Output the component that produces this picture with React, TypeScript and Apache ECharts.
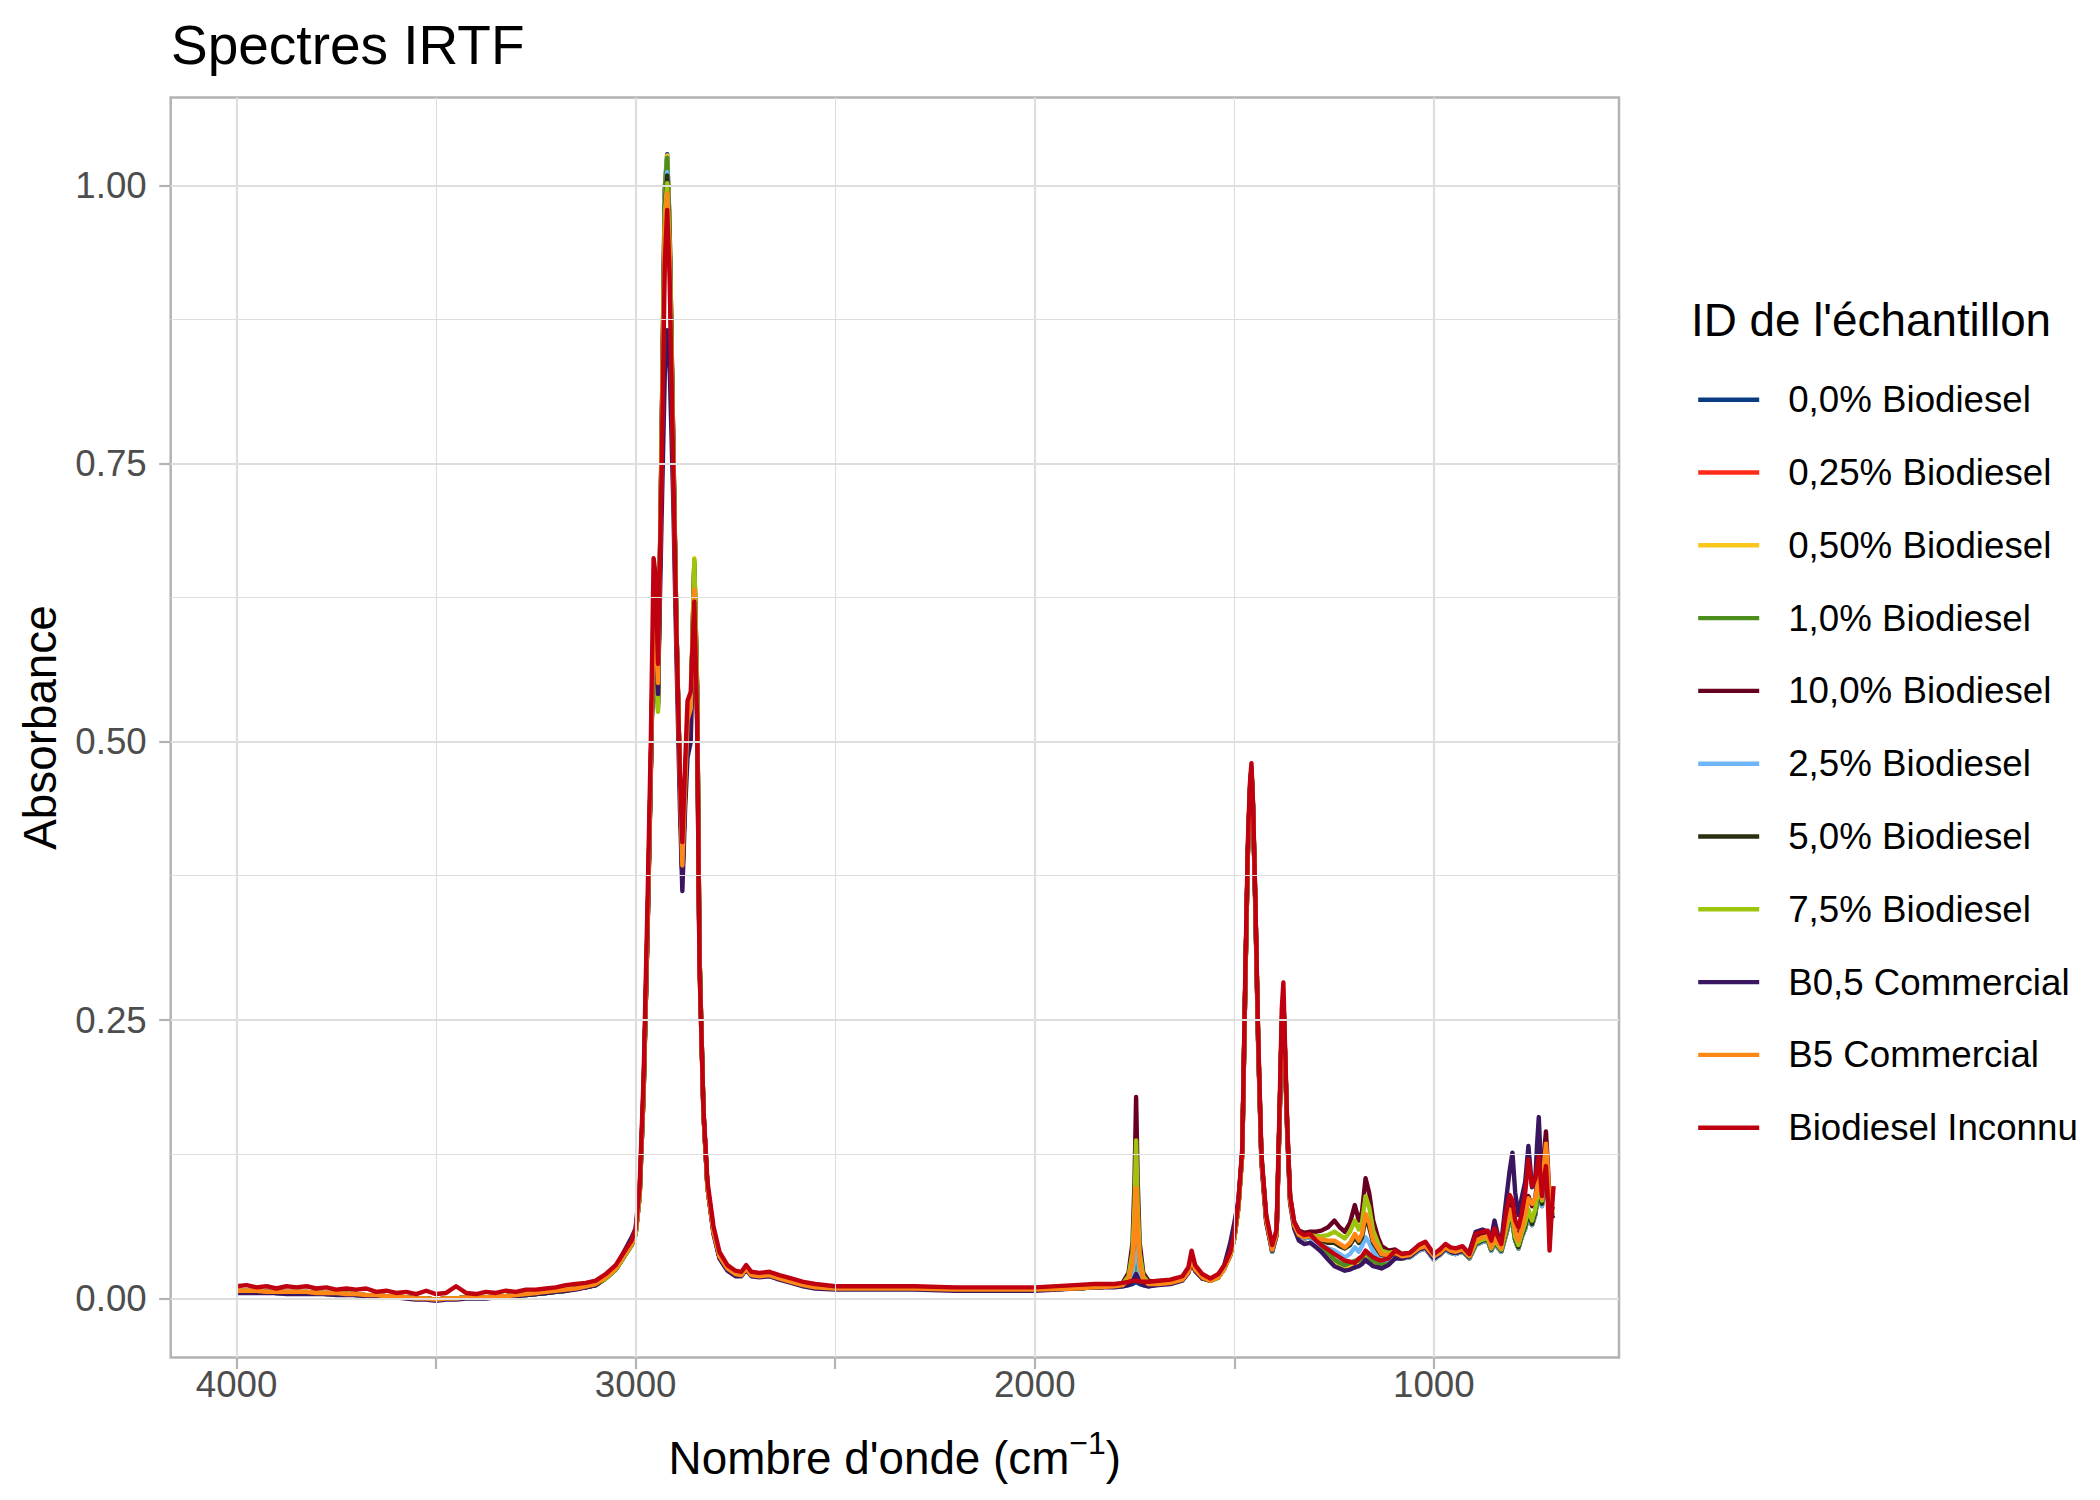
import React, { useEffect, useRef } from "react";
import * as echarts from "echarts";

const FONT = '"Liberation Sans", Arial, Helvetica, sans-serif';

// Wavenumber grid (cm^-1), descending
const wavenumbers = [
  4000, 3975, 3950, 3925, 3900, 3875, 3850, 3825, 3800, 3775, 3750, 3725, 3700, 3675, 3650, 3625, 3600, 3575, 3550, 3525, 3500, 3475, 3450, 3425, 3400, 3375, 3350, 3325, 3300, 3275, 3250, 3225, 3200, 3175, 3150, 3125, 3100,
  3075, 3050, 3025, 3010, 3000, 2990, 2980, 2970, 2962, 2955, 2950, 2944, 2935, 2927, 2921, 2915, 2906, 2898, 2889, 2883, 2876, 2870, 2862, 2853, 2846, 2840, 2830, 2820, 2805, 2790, 2770, 2750, 2735, 2723, 2710, 2690, 2665, 2640, 2610, 2580, 2550,
  2500, 2400, 2300, 2200, 2100, 2000, 1900, 1850, 1800,
  1780, 1765, 1755, 1750, 1746, 1742, 1737, 1728, 1715, 1690, 1660, 1630, 1615, 1607, 1598, 1580, 1560, 1540, 1525, 1510, 1500, 1490, 1480, 1472, 1466, 1461, 1457, 1453, 1447, 1440, 1432, 1420, 1405, 1394, 1386, 1381, 1377, 1373, 1367, 1360, 1350, 1338, 1325, 1310,
  1295, 1282, 1265, 1249, 1236, 1223, 1210, 1198, 1188, 1180, 1171, 1162, 1152, 1140, 1131, 1114, 1097, 1080, 1060, 1038, 1021, 1000, 985, 971, 958, 945, 928, 911, 895, 878, 865, 856, 848, 840, 831, 820, 810, 803, 796, 788, 780, 771, 763, 754, 746, 741, 737, 733, 729, 724, 719, 715, 710, 705, 700,
];

const sampleNames = [
  "0,0% Biodiesel",
  "0,25% Biodiesel",
  "0,50% Biodiesel",
  "1,0% Biodiesel",
  "10,0% Biodiesel",
  "2,5% Biodiesel",
  "5,0% Biodiesel",
  "7,5% Biodiesel",
  "B0,5 Commercial",
  "B5 Commercial",
  "Biodiesel Inconnu",
];

const sampleColors = [
  "#0A3C82",
  "#FF2A18",
  "#F9C61C",
  "#4B8E1E",
  "#680020",
  "#6EB6F7",
  "#283010",
  "#9DC50E",
  "#3A1660",
  "#FF8716",
  "#BE0010",
];

const abs00 = [
  .006, .006, .006, .006, .005, .005, .005, .005, .005, .004, .004, .004, .003, .003, .002, .002, .001, .001, .000, .000, -.001, .000, .000, .001, .001, .001, .001, .002, .003, .003, .004, .005, .006, .007, .009, .010, .012,
  .018, .026, .040, .048, .058, .092, .185, .335, .475, .605, .590, .535, .772, .998, 1.028, .966, .776, .608, .466, .380, .455, .510, .525, .662, .549, .309, .167, .100, .060, .037, .026, .021, .021, .027, .021, .020, .021, .018, .015, .012, .010,
  .009, .009, .009, .008, .008, .008, .009, .010, .011,
  .011, .012, .013, .014, .015, .014, .013, .012, .011, .013, .014, .017, .024, .034, .025, .018, .016, .019, .027, .039, .054, .081, .130, .290, .400, .455, .475, .441, .351, .229, .126, .071, .042, .057, .170, .246, .270, .221, .148, .088, .066, .056, .054, .055,
  .048, .044, .036, .030, .028, .026, .027, .028, .030, .032, .034, .032, .030, .029, .028, .031, .037, .036, .037, .043, .045, .035, .039, .044, .041, .040, .042, .036, .048, .051, .052, .043, .050, .046, .042, .056, .070, .068, .052, .045, .055, .063, .075, .066, .075, .088, .095, .090, .086, .100, .112, .098, .078, .076, .076,
];

const abs025 = [
  .007, .007, .007, .006, .006, .006, .006, .006, .005, .005, .005, .004, .004, .003, .003, .002, .002, .001, .000, .000, -.001, .000, .000, .001, .001, .001, .002, .002, .003, .004, .005, .006, .007, .008, .009, .011, .013,
  .018, .026, .040, .048, .058, .092, .185, .335, .475, .605, .590, .535, .770, .990, 1.020, .962, .774, .607, .466, .380, .455, .510, .525, .660, .548, .309, .167, .100, .060, .037, .026, .021, .021, .027, .021, .020, .021, .018, .015, .012, .010,
  .009, .009, .009, .008, .008, .008, .009, .010, .011,
  .012, .013, .015, .019, .022, .019, .015, .013, .012, .013, .014, .017, .024, .034, .025, .018, .016, .019, .027, .039, .054, .081, .130, .290, .400, .455, .475, .441, .351, .229, .126, .071, .042, .057, .170, .246, .270, .221, .148, .088, .066, .056, .054, .055,
  .048, .044, .037, .031, .029, .027, .028, .029, .031, .033, .036, .033, .031, .030, .028, .031, .037, .036, .037, .043, .045, .035, .039, .044, .041, .040, .042, .036, .048, .051, .052, .043, .050, .046, .042, .056, .070, .068, .052, .045, .055, .063, .075, .066, .075, .088, .095, .090, .083, .100, .115, .100, .078, .076, .077,
];

const abs050 = [
  .007, .007, .007, .006, .006, .006, .006, .006, .005, .005, .005, .004, .004, .003, .003, .002, .002, .001, .000, .000, -.001, .000, .000, .001, .001, .001, .002, .002, .003, .004, .005, .006, .007, .008, .009, .011, .013,
  .018, .026, .040, .048, .058, .092, .185, .335, .475, .605, .590, .535, .770, .997, 1.027, .965, .775, .608, .466, .380, .455, .510, .525, .665, .550, .310, .167, .100, .060, .037, .026, .021, .021, .027, .021, .020, .021, .018, .015, .012, .010,
  .009, .009, .009, .008, .008, .008, .009, .010, .011,
  .012, .013, .016, .022, .028, .022, .016, .013, .012, .013, .014, .017, .024, .034, .025, .018, .016, .019, .027, .039, .054, .081, .130, .290, .400, .455, .475, .441, .351, .229, .126, .071, .042, .057, .170, .246, .270, .221, .148, .088, .066, .056, .054, .055,
  .049, .045, .038, .032, .030, .028, .029, .031, .032, .034, .038, .034, .032, .030, .029, .032, .038, .036, .037, .043, .045, .035, .039, .044, .041, .040, .042, .036, .048, .051, .052, .043, .050, .046, .042, .056, .070, .068, .052, .045, .055, .063, .075, .066, .075, .088, .095, .090, .083, .100, .115, .100, .078, .076, .077,
];

const abs10 = [
  .006, .006, .006, .006, .005, .005, .005, .005, .005, .004, .004, .004, .003, .003, .002, .002, .001, .001, .000, .000, -.001, .000, .000, .001, .001, .001, .001, .002, .003, .003, .004, .005, .006, .007, .009, .010, .012,
  .018, .026, .040, .048, .058, .092, .185, .335, .475, .605, .590, .535, .770, .995, 1.025, .965, .775, .608, .466, .380, .455, .510, .525, .660, .548, .309, .167, .100, .060, .037, .026, .021, .021, .027, .021, .020, .021, .018, .015, .012, .010,
  .009, .009, .009, .008, .008, .008, .009, .010, .011,
  .012, .014, .019, .030, .042, .030, .019, .014, .012, .013, .014, .017, .024, .034, .025, .018, .016, .019, .027, .039, .054, .081, .130, .290, .400, .455, .475, .441, .351, .229, .126, .071, .042, .057, .170, .246, .270, .221, .148, .088, .066, .056, .054, .055,
  .050, .047, .041, .035, .032, .030, .032, .034, .034, .037, .042, .038, .034, .032, .030, .032, .038, .036, .037, .043, .045, .035, .039, .044, .041, .040, .042, .036, .048, .051, .052, .043, .050, .046, .042, .056, .070, .068, .052, .045, .055, .063, .075, .066, .075, .088, .095, .090, .083, .100, .115, .100, .078, .076, .077,
];

const abs100 = [
  .007, .007, .007, .006, .006, .006, .006, .006, .005, .005, .005, .004, .004, .003, .003, .002, .002, .001, .000, .000, -.001, .000, .000, .001, .001, .001, .002, .002, .003, .004, .005, .006, .007, .008, .009, .011, .013,
  .019, .027, .041, .049, .059, .094, .188, .338, .478, .605, .592, .540, .765, .980, 1.005, .950, .768, .605, .468, .385, .460, .515, .528, .650, .545, .308, .168, .101, .061, .038, .027, .022, .022, .028, .022, .021, .022, .019, .016, .013, .011,
  .009, .009, .009, .008, .008, .008, .009, .010, .011,
  .014, .023, .050, .105, .181, .105, .050, .023, .016, .014, .015, .018, .025, .035, .026, .019, .017, .020, .028, .040, .056, .083, .132, .292, .402, .457, .477, .443, .353, .231, .128, .073, .045, .060, .172, .248, .272, .224, .151, .091, .069, .061, .059, .060,
  .060, .061, .064, .070, .064, .060, .068, .084, .070, .078, .108, .095, .070, .055, .047, .043, .044, .040, .041, .047, .049, .040, .043, .048, .045, .044, .046, .040, .054, .057, .058, .048, .057, .052, .047, .068, .085, .082, .062, .055, .065, .078, .092, .083, .090, .105, .115, .108, .100, .130, .150, .125, .090, .082, .080,
];

const abs25 = [
  .007, .007, .007, .006, .006, .006, .006, .006, .005, .005, .005, .004, .004, .003, .003, .002, .002, .001, .000, .000, -.001, .000, .000, .001, .001, .001, .002, .002, .003, .004, .005, .006, .007, .008, .009, .011, .013,
  .018, .026, .040, .048, .058, .092, .185, .335, .475, .605, .590, .535, .765, .985, 1.012, .955, .770, .605, .465, .380, .455, .510, .525, .655, .545, .308, .167, .100, .060, .037, .026, .021, .021, .027, .021, .020, .021, .018, .015, .012, .010,
  .009, .009, .009, .008, .008, .008, .009, .010, .011,
  .012, .015, .022, .038, .060, .038, .022, .015, .013, .013, .014, .017, .024, .034, .025, .018, .016, .019, .027, .039, .054, .081, .130, .290, .400, .455, .475, .441, .351, .229, .126, .071, .042, .057, .170, .246, .270, .221, .148, .088, .066, .056, .054, .055,
  .050, .048, .045, .043, .040, .037, .040, .046, .042, .047, .055, .050, .042, .037, .034, .035, .038, .036, .037, .043, .045, .035, .039, .044, .041, .040, .042, .036, .048, .051, .052, .043, .050, .046, .042, .056, .070, .068, .052, .045, .055, .063, .075, .066, .075, .088, .095, .090, .083, .100, .115, .100, .078, .076, .077,
];

const abs50 = [
  .006, .006, .006, .006, .005, .005, .005, .005, .005, .004, .004, .004, .003, .003, .002, .002, .001, .001, .000, .000, -.001, .000, .000, .001, .001, .001, .001, .002, .003, .003, .004, .005, .006, .007, .009, .010, .012,
  .018, .026, .040, .048, .058, .092, .185, .335, .475, .600, .585, .530, .760, .980, 1.009, .955, .770, .605, .465, .378, .455, .508, .523, .655, .545, .308, .167, .100, .060, .037, .026, .021, .021, .027, .021, .020, .021, .018, .015, .012, .010,
  .009, .009, .009, .008, .008, .008, .009, .010, .011,
  .013, .018, .035, .069, .115, .069, .035, .018, .014, .013, .014, .017, .024, .034, .025, .018, .016, .019, .027, .039, .054, .081, .130, .290, .400, .455, .476, .441, .351, .229, .126, .071, .043, .058, .170, .246, .271, .221, .149, .089, .066, .057, .055, .056,
  .053, .052, .050, .050, .047, .045, .048, .055, .050, .055, .072, .064, .050, .043, .039, .038, .040, .037, .038, .044, .046, .037, .040, .045, .042, .041, .043, .037, .049, .052, .053, .044, .051, .047, .043, .058, .072, .070, .053, .046, .056, .065, .077, .067, .077, .090, .098, .092, .085, .105, .122, .105, .080, .076, .075,
];

const abs75 = [
  .007, .007, .007, .006, .006, .006, .006, .006, .005, .005, .005, .004, .004, .003, .003, .002, .002, .001, .000, .000, -.001, .000, .000, .001, .001, .001, .002, .002, .003, .004, .005, .006, .007, .008, .009, .011, .013,
  .018, .026, .040, .048, .058, .092, .185, .335, .475, .600, .585, .527, .760, .975, 1.002, .950, .770, .605, .465, .380, .455, .510, .525, .664, .550, .310, .168, .100, .060, .037, .026, .021, .021, .027, .021, .020, .021, .018, .015, .012, .010,
  .009, .009, .009, .008, .008, .008, .009, .010, .011,
  .013, .020, .041, .083, .142, .083, .041, .020, .014, .013, .014, .017, .024, .034, .025, .018, .016, .019, .027, .039, .054, .081, .130, .290, .400, .455, .475, .441, .351, .229, .126, .071, .043, .058, .170, .246, .270, .221, .149, .089, .067, .058, .056, .057,
  .056, .056, .057, .060, .057, .054, .060, .070, .062, .068, .092, .082, .061, .050, .043, .041, .042, .038, .039, .045, .047, .037, .041, .046, .043, .042, .044, .038, .050, .053, .054, .045, .052, .048, .044, .060, .075, .072, .055, .048, .058, .068, .080, .070, .080, .092, .100, .095, .088, .110, .128, .110, .082, .078, .076,
];

const absB05 = [
  .005, .005, .005, .005, .005, .004, .004, .004, .004, .004, .003, .003, .003, .002, .002, .001, .001, .000, -.001, -.001, -.002, -.001, -.001, .000, .000, .000, .001, .001, .002, .003, .004, .005, .006, .007, .008, .010, .012,
  .020, .028, .045, .055, .063, .096, .190, .330, .470, .600, .590, .543, .700, .830, .870, .840, .720, .580, .440, .366, .440, .486, .500, .620, .520, .300, .165, .100, .058, .036, .025, .020, .020, .026, .020, .019, .020, .017, .014, .011, .009,
  .008, .008, .008, .007, .007, .007, .009, .010, .010,
  .011, .012, .015, .019, .022, .019, .015, .012, .011, .012, .013, .016, .023, .034, .025, .018, .016, .021, .030, .050, .068, .088, .132, .290, .400, .452, .470, .436, .346, .225, .122, .068, .043, .057, .165, .240, .262, .215, .145, .085, .063, .052, .049, .050,
  .046, .042, .035, .029, .027, .025, .026, .028, .029, .031, .035, .032, .029, .028, .027, .030, .036, .036, .038, .044, .046, .036, .040, .045, .042, .041, .043, .042, .060, .062, .060, .055, .070, .058, .050, .085, .115, .131, .095, .075, .090, .105, .137, .100, .105, .140, .163, .130, .095, .100, .110, .090, .080, .075, .072,
];

const absB5 = [
  .007, .007, .007, .006, .006, .006, .006, .006, .005, .005, .005, .004, .004, .003, .003, .002, .002, .001, .000, .000, -.001, .000, .000, .001, .001, .001, .002, .002, .003, .004, .005, .006, .007, .008, .009, .011, .013,
  .019, .027, .041, .049, .059, .095, .190, .340, .480, .610, .600, .553, .760, .960, .993, .940, .760, .600, .465, .389, .460, .520, .530, .637, .530, .300, .165, .100, .060, .038, .027, .022, .021, .027, .021, .020, .021, .018, .015, .012, .010,
  .009, .009, .009, .008, .008, .008, .009, .010, .011,
  .012, .017, .031, .060, .099, .060, .031, .017, .013, .013, .014, .017, .024, .035, .026, .019, .016, .019, .027, .039, .055, .082, .130, .290, .400, .455, .474, .440, .350, .228, .125, .071, .044, .058, .170, .245, .268, .220, .148, .088, .066, .057, .055, .056,
  .054, .053, .052, .052, .049, .046, .050, .058, .052, .058, .076, .068, .052, .045, .040, .039, .041, .038, .039, .045, .047, .038, .041, .046, .043, .042, .044, .038, .052, .055, .056, .046, .055, .050, .045, .065, .080, .078, .060, .052, .062, .075, .090, .085, .090, .100, .110, .100, .090, .120, .139, .120, .085, .080, .078,
];

const absUnknown = [
  .011, .012, .010, .011, .009, .011, .010, .011, .009, .010, .008, .009, .008, .009, .006, .007, .005, .006, .004, .007, .004, .005, .011, .005, .004, .006, .005, .007, .006, .008, .008, .009, .010, .012, .013, .014, .016,
  .022, .030, .044, .052, .063, .100, .200, .360, .500, .665, .650, .570, .740, .930, .978, .920, .750, .600, .470, .410, .480, .537, .545, .626, .520, .300, .170, .105, .065, .042, .030, .025, .024, .030, .024, .023, .024, .021, .018, .015, .013,
  .011, .011, .011, .010, .010, .010, .012, .013, .013,
  .014, .015, .016, .016, .016, .016, .015, .015, .015, .016, .017, .020, .028, .043, .030, .022, .018, .022, .030, .042, .058, .085, .135, .300, .410, .462, .481, .445, .356, .235, .130, .075, .048, .062, .180, .260, .284, .230, .152, .092, .069, .060, .057, .058,
  .052, .048, .044, .040, .037, .034, .033, .032, .036, .038, .043, .040, .037, .035, .034, .036, .043, .040, .041, .048, .051, .040, .044, .049, .046, .045, .047, .040, .058, .060, .061, .052, .063, .056, .049, .075, .093, .088, .070, .064, .076, .095, .125, .101, .107, .120, .128, .110, .092, .108, .119, .095, .043, .075, .101,
];

const sampleValues = [abs00, abs025, abs050, abs10, abs100, abs25, abs50, abs75, absB05, absB5, absUnknown];

// Axes
const xMin = 536;
const xMax = 4165;
const yMin = -0.053;
const yMax = 1.079;
const xTickValues = [4000, 3500, 3000, 2500, 2000, 1500, 1000];
const xLabelValues = [4000, 3000, 2000, 1000];
const xMajorGrid = [4000, 3000, 2000, 1000];
const xMinorGrid = [3500, 2500, 1500];
const yTickValues = [0, 0.25, 0.5, 0.75, 1];
const yMinorGrid = [0.125, 0.375, 0.625, 0.875];

const GRID_LEFT = 170.7;
const GRID_TOP = 97.5;
const GRID_RIGHT_X = 1619;
const GRID_BOTTOM_Y = 1357.5;

export default function App() {
  const ref = useRef<HTMLDivElement>(null);

  useEffect(() => {
    document.body.style.margin = "0";
    if (!ref.current) return;
    const chart = echarts.init(ref.current, null, { renderer: "svg", width: 2100, height: 1500 });

    const gridLineData: any[] = [
      ...xMajorGrid.map((v) => ({ xAxis: v, lineStyle: { color: "#DEDEDE", width: 2.2, type: "solid" } })),
      ...xMinorGrid.map((v) => ({ xAxis: v, lineStyle: { color: "#DEDEDE", width: 1.1, type: "solid" } })),
      ...yTickValues.map((v) => ({ yAxis: v, lineStyle: { color: "#DEDEDE", width: 2.2, type: "solid" } })),
      ...yMinorGrid.map((v) => ({ yAxis: v, lineStyle: { color: "#DEDEDE", width: 1.1, type: "solid" } })),
    ];

    const dataSeries = sampleNames.map((name, k) => {
      const vals = sampleValues[k];
      const n = Math.min(vals.length, wavenumbers.length);
      const pts: number[][] = [];
      for (let i = 0; i < n; i++) pts.push([wavenumbers[i], vals[i]]);
      return {
        type: "line",
        name,
        data: pts,
        color: sampleColors[k],
        symbol: "none",
        showSymbol: false,
        smooth: false,
        z: 3,
        lineStyle: { color: sampleColors[k], width: 4.4, join: "round", cap: "butt" },
        itemStyle: { color: sampleColors[k] },
        emphasis: { disabled: true },
        silent: true,
      };
    });

    const option: any = {
      animation: false,
      backgroundColor: "#FFFFFF",
      textStyle: { fontFamily: FONT },
      title: {
        text: "Spectres IRTF",
        left: 171,
        top: 17,
        padding: 0,
        textStyle: { fontSize: 55, fontWeight: "normal", color: "#000000", fontFamily: FONT },
      },
      grid: {
        left: GRID_LEFT,
        top: GRID_TOP,
        width: GRID_RIGHT_X - GRID_LEFT,
        height: GRID_BOTTOM_Y - GRID_TOP,
        show: true,
        borderColor: "#B3B3B3",
        borderWidth: 2.5,
        backgroundColor: "transparent",
        containLabel: false,
        outerBoundsMode: "none",
      },
      legend: {
        data: sampleNames,
        orient: "vertical",
        left: 1696,
        top: 379.7,
        padding: 0,
        itemWidth: 61,
        itemHeight: 20,
        itemGap: 32.8,
        selectedMode: false,
        itemStyle: { opacity: 0 },
        lineStyle: { width: 4.4 },
        textStyle: { fontSize: 36.7, color: "#000000", fontFamily: FONT, lineHeight: 40, padding: [0, 0, 0, 24] },
      },
      xAxis: {
        type: "value",
        min: xMin,
        max: xMax,
        inverse: true,
        axisLine: { show: false, onZero: false },
        axisTick: {
          show: true,
          length: 11.5,
          customValues: xTickValues,
          lineStyle: { color: "#B3B3B3", width: 2.2 },
        },
        axisLabel: {
          show: true,
          customValues: xLabelValues,
          margin: 8,
          fontSize: 36.7,
          color: "#4D4D4D",
          fontFamily: FONT,
          formatter: (v: number) => String(Math.round(v)),
        },
        splitLine: { show: false },
        minorSplitLine: { show: false },
      },
      yAxis: {
        type: "value",
        min: yMin,
        max: yMax,
        axisLine: { show: false, onZero: false },
        axisTick: {
          show: true,
          length: 11.5,
          customValues: yTickValues,
          lineStyle: { color: "#B3B3B3", width: 2.2 },
        },
        axisLabel: {
          show: true,
          customValues: yTickValues,
          margin: 24,
          fontSize: 36.7,
          color: "#4D4D4D",
          fontFamily: FONT,
          formatter: (v: number) => v.toFixed(2),
        },
        splitLine: { show: false },
      },
      graphic: [
        {
          type: "text",
          x: (GRID_LEFT + GRID_RIGHT_X) / 2,
          y: 1458,
          style: {
            text: "Nombre d'onde (cm{sup|−1})",
            fontSize: 45.8,
            fontFamily: FONT,
            fill: "#000000",
            align: "center",
            verticalAlign: "middle",
            lineHeight: 62,
            rich: {
              sup: { fontSize: 32, fontFamily: FONT, fill: "#000000", lineHeight: 34, verticalAlign: "top" },
            },
          },
        },
        {
          type: "text",
          x: 40.6,
          y: (GRID_TOP + GRID_BOTTOM_Y) / 2,
          rotation: Math.PI / 2,
          style: {
            text: "Absorbance",
            fontSize: 45.8,
            fontFamily: FONT,
            fill: "#000000",
            align: "center",
            verticalAlign: "middle",
          },
        },
        {
          type: "text",
          x: 1691,
          y: 320,
          style: {
            text: "ID de l'échantillon",
            fontSize: 45.8,
            fontFamily: FONT,
            fill: "#000000",
            align: "left",
            verticalAlign: "middle",
          },
        },
      ],
      series: [
        {
          type: "line",
          name: "__grid",
          data: [],
          silent: true,
          z: 1,
          markLine: {
            silent: true,
            animation: false,
            symbol: ["none", "none"],
            label: { show: false },
            lineStyle: { type: "solid", color: "#DEDEDE" },
            emphasis: { disabled: true },
            data: gridLineData,
          },
        },
        ...dataSeries,
      ],
    };

    chart.setOption(option);
    return () => chart.dispose();
  }, []);

  return <div ref={ref} style={{ width: 2100, height: 1500 }} />;
}
